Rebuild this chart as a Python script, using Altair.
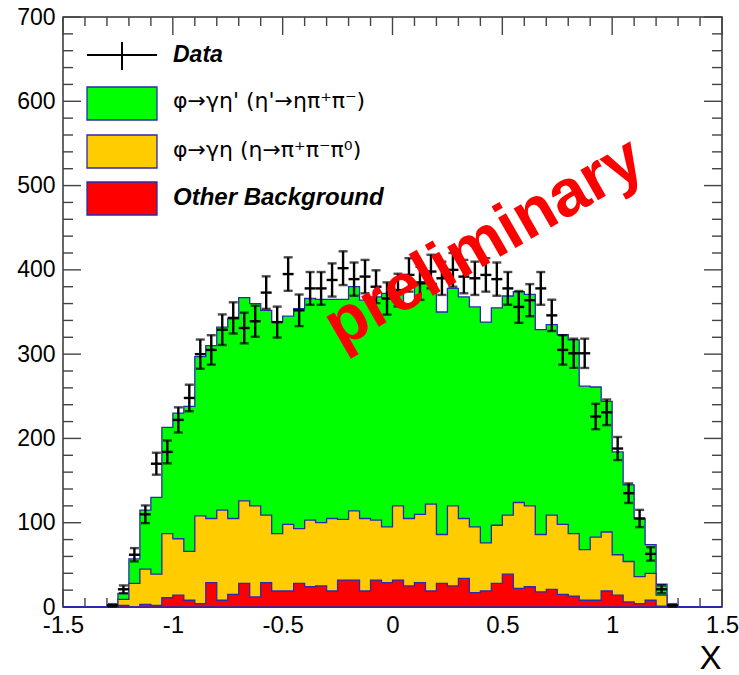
import altair as alt
import numpy as np
import pandas as pd

# ---- histogram content: 52 bins of width 0.05 from -1.3 to 1.3 ----
bin_centers = [round(-1.275 + 0.05 * i, 3) for i in range(52)]

data_counts = [2, 21, 62, 110, 170, 184, 222, 248, 300, 305, 329, 343, 331, 339,
               373, 338, 395, 352, 378, 378, 388, 402, 389, 392, 380, 366, 376,
               394, 384, 398, 390, 400, 392, 390, 394, 389, 378, 356, 364, 378,
               346, 305, 301, 301, 226, 231, 188, 135, 105, 63, 21, 2]

# stacked totals (top of each coloured region)
total_stack = [0, 16, 57, 115, 130, 213, 230, 238, 297, 310, 332, 342, 367, 360,
               352, 338, 345, 354, 366, 365, 365, 365, 380, 364, 368, 372, 374,
               360, 386, 384, 350, 378, 368, 356, 338, 355, 369, 374, 371, 329,
               335, 323, 317, 262, 261, 244, 184, 145, 105, 74, 27, 0]

eta_stack = [0, 9, 28, 45, 39, 87, 81, 66, 108, 105, 115, 105, 126, 120, 109,
             87, 98, 93, 103, 100, 105, 104, 114, 105, 103, 95, 120, 105, 110,
             122, 86, 120, 105, 95, 76, 97, 109, 124, 120, 86, 109, 98, 87, 68,
             83, 89, 62, 54, 36, 40, 14, 0]

other_bkg = [0, 2, 0, 3, 2, 11, 14, 8, 4, 29, 8, 15, 28, 12, 29, 19, 19, 28, 24,
             25, 19, 32, 32, 19, 32, 29, 32, 25, 29, 19, 28, 25, 34, 17, 19, 28,
             39, 22, 24, 18, 21, 15, 13, 8, 8, 19, 14, 6, 4, 8, 1, 0]

x_major = [-1.5, -1.0, -0.5, 0.0, 0.5, 1.0, 1.5]
x_minor = [-1.4, -1.3, -1.2, -1.1, -0.9, -0.8, -0.7, -0.6, -0.4, -0.3, -0.2, -0.1,
           0.1, 0.2, 0.3, 0.4, 0.6, 0.7, 0.8, 0.9, 1.1, 1.2, 1.3, 1.4]
y_major = [0, 100, 200, 300, 400, 500, 600, 700]
y_minor = [v for v in range(20, 700, 20) if v % 100 != 0]

legend_labels = ["Data", "φ→γη' (η'→ηπ⁺π⁻)", "φ→γη (η→π⁺π⁻π⁰)", "Other Background"]
legend_colors = ["#00ff00", "#ffcc00", "#ff0000"]
watermark = ["preliminary"]

# ---- build tables ----
pad = [0, 0, 0, 0]
edges = [round(-1.5 + 0.05 * i, 3) for i in range(61)]
hist_df = pd.DataFrame({
    "x": edges,
    "total": pad + total_stack + pad + [0],
    "eta": pad + eta_stack + pad + [0],
    "other": pad + other_bkg + pad + [0],
})
pts_df = pd.DataFrame({"c": bin_centers, "n": data_counts})

W, H = 659, 590
OUT = "#2a2ab0"
FONT = "Liberation Sans, Arial, Helvetica, sans-serif"
GREEK_FONT = "DejaVu Sans, Liberation Sans, sans-serif"

xs = alt.Scale(domain=[-1.5, 1.5], nice=False, zero=False)
ys = alt.Scale(domain=[0, 700], nice=False)

x_axis = alt.Axis(values=x_major, ticks=False, domain=False, grid=False,
                  labelFontSize=24, labelPadding=6, labelColor="black", labelFont=FONT,
                  labelExpr="datum.value < 0 ? '-' + format(-datum.value, '~g') : format(datum.value, '~g')",
                  labelFlush=False, labelOverlap=False,
                  title="X", titleFont=FONT, titleFontSize=33, titleFontWeight="normal",
                  titleColor="black", titleX=W - 1, titleY=51, titleAlign="right",
                  titleBaseline="middle", titleAngle=0)
y_axis = alt.Axis(values=y_major, ticks=False, domain=False, grid=False,
                  labelFontSize=23, labelPadding=8, labelColor="black", labelFont=FONT,
                  format="d", labelFlush=False, labelOverlap=False, title="")

base = alt.Chart(hist_df)

def area(field, color):
    return base.mark_area(interpolate="step-after", fill=color, stroke=OUT,
                          strokeWidth=1.3, opacity=1).encode(
        x=alt.X("x:Q", scale=xs, axis=x_axis),
        y=alt.Y(f"{field}:Q", scale=ys, axis=y_axis),
    )

green = area("total", "#00ff00")
yellow = area("eta", "#ffcc00")
red = area("other", "#ff0000")

# ---- tick marks drawn inward (ROOT style) ----
TK = "#444444"
def xticks(vals, length):
    d = alt.Chart(pd.DataFrame({"v": vals}))
    bot = d.mark_rule(color=TK, strokeWidth=1.4).encode(
        x=alt.X("v:Q", scale=xs, axis=x_axis), y=alt.value(H), y2=alt.value(H - length))
    top = d.mark_rule(color=TK, strokeWidth=1.4).encode(
        x=alt.X("v:Q", scale=xs, axis=x_axis), y=alt.value(0), y2=alt.value(length))
    return bot + top

def yticks(vals, length):
    d = alt.Chart(pd.DataFrame({"v": vals}))
    lft = d.mark_rule(color=TK, strokeWidth=1.4).encode(
        y=alt.Y("v:Q", scale=ys, axis=y_axis), x=alt.value(0), x2=alt.value(length))
    rgt = d.mark_rule(color=TK, strokeWidth=1.4).encode(
        y=alt.Y("v:Q", scale=ys, axis=y_axis), x=alt.value(W), x2=alt.value(W - length))
    return lft + rgt

ticks = xticks(x_major, 18) + xticks(x_minor, 9) + yticks(y_major, 18) + yticks(y_minor, 10)

# ---- data points with errors ----
pb = alt.Chart(pts_df).transform_calculate(
    lo="datum.n - sqrt(datum.n)",
    hi="datum.n + sqrt(datum.n)",
    xl="datum.c - 0.025",
    xr="datum.c + 0.025",
)
vbar = pb.mark_rule(color="black", strokeWidth=2.4).encode(
    x=alt.X("c:Q", scale=xs, axis=x_axis), y=alt.Y("lo:Q", scale=ys, axis=y_axis), y2="hi:Q")
hbar = pb.mark_rule(color="black", strokeWidth=2.4).encode(
    x=alt.X("xl:Q", scale=xs, axis=x_axis), x2="xr:Q", y=alt.Y("n:Q", scale=ys, axis=y_axis))
cap_hi = pb.mark_tick(orient="horizontal", color="black", size=9, thickness=2.4).encode(
    x=alt.X("c:Q", scale=xs, axis=x_axis), y=alt.Y("hi:Q", scale=ys, axis=y_axis))
cap_lo = pb.mark_tick(orient="horizontal", color="black", size=9, thickness=2.4).encode(
    x=alt.X("c:Q", scale=xs, axis=x_axis), y=alt.Y("lo:Q", scale=ys, axis=y_axis))

# ---- legend ----
one = alt.Chart(pd.DataFrame({"k": [0]}))
leg_h = one.mark_rule(color="black", strokeWidth=2).encode(
    x=alt.value(24), x2=alt.value(94), y=alt.value(38))
leg_v = one.mark_rule(color="black", strokeWidth=2).encode(
    x=alt.value(59), y=alt.value(25), y2=alt.value(53))
box_tops = [70, 118, 165]
leg_boxes = None
for col, top in zip(legend_colors, box_tops):
    b = one.mark_rect(fill=col, stroke=OUT, strokeWidth=1.3).encode(
        x=alt.value(24), x2=alt.value(94), y=alt.value(top), y2=alt.value(top + 33))
    leg_boxes = b if leg_boxes is None else leg_boxes + b

text_y = [38, 84, 133, 181]
styles = [("bold", "italic", FONT, 23), ("normal", "normal", GREEK_FONT, 22),
          ("normal", "normal", GREEK_FONT, 22), ("bold", "italic", FONT, 24)]
leg_text = None
for lab, ty, (fw, fs, ff, sz) in zip(legend_labels, text_y, styles):
    t = alt.Chart(pd.DataFrame({"t": [lab]})).mark_text(
        align="left", baseline="middle", fontSize=sz, font=ff, fontWeight=fw,
        fontStyle=fs, color="black").encode(text="t:N", x=alt.value(110), y=alt.value(ty))
    leg_text = t if leg_text is None else leg_text + t

prelim = alt.Chart(pd.DataFrame({"t": watermark})).mark_text(
    align="center", baseline="middle", fontSize=66, font=FONT, fontWeight="bold",
    color="#ff0000", angle=330).encode(text="t:N", x=alt.value(421), y=alt.value(226))

chart = alt.layer(
    ticks, green, yellow, red, vbar, hbar, cap_hi, cap_lo, prelim,
    leg_h, leg_v, leg_boxes, leg_text
).properties(
    width=W, height=H,
    autosize=alt.AutoSizeParams(type="none"),
    padding={"left": 63, "top": 17, "right": 17, "bottom": 68},
    background="white",
).configure_view(stroke="#333333", strokeWidth=1.5)

chart.save("out.html", embed_options={"renderer": "svg", "actions": False})
